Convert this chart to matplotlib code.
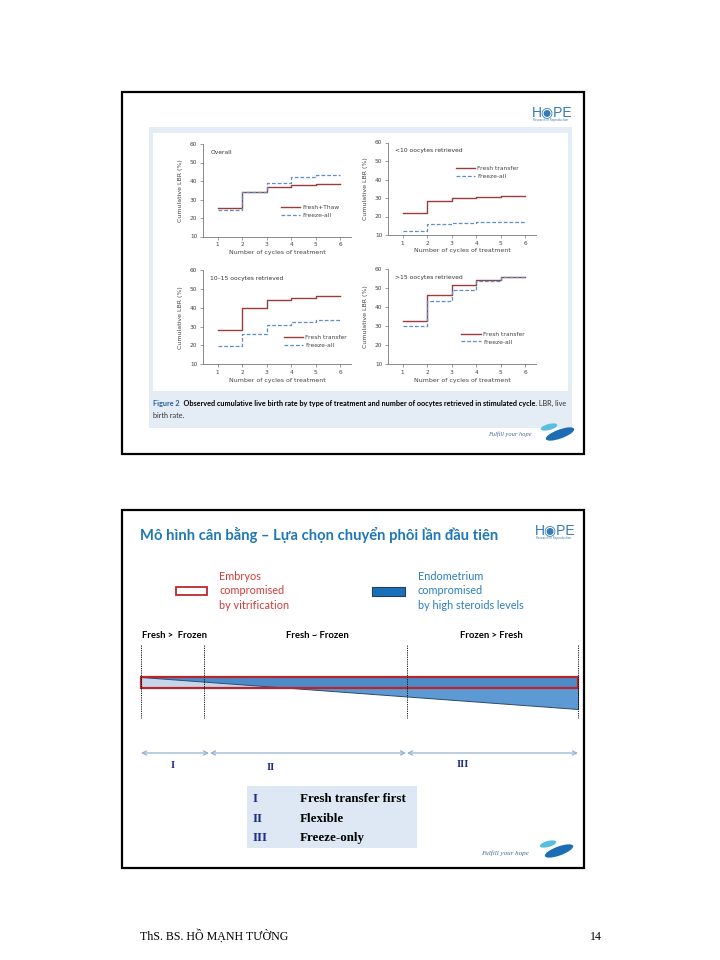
import matplotlib
matplotlib.use("Agg")
import matplotlib.pyplot as plt
from matplotlib.patches import Rectangle, Polygon, Ellipse

# ---- data: cumulative LBR (%) per cycle of treatment ----
cycles = [1, 2, 3, 4, 5, 6]
overall_fresh = [25.5, 33.8, 37.0, 38.0, 38.5, 38.5]
overall_freeze = [24.1, 34.2, 38.9, 42.3, 43.5, 43.5]
lt10_fresh = [22.1, 28.3, 30.2, 30.8, 31.0, 31.0]
lt10_freeze = [12.0, 15.9, 16.4, 17.0, 17.1, 17.1]
mid_fresh = [28.3, 39.6, 44.2, 45.3, 46.0, 46.0]
mid_freeze = [19.6, 25.9, 30.6, 32.6, 33.3, 33.3]
gt15_fresh = [32.4, 46.1, 51.5, 54.3, 55.6, 55.6]
gt15_freeze = [30.0, 43.2, 48.9, 53.8, 55.5, 55.5]

panel_titles = ["Overall", "<10 oocytes retrieved",
                "10\u201315 oocytes retrieved", ">15 oocytes retrieved"]
fresh_labels = ["Fresh+Thaw", "Fresh transfer", "Fresh transfer", "Fresh transfer"]
yticks = [10, 20, 30, 40, 50, 60]

zones = ["Fresh >  Frozen", "Fresh ~ Frozen", "Frozen > Fresh"]
romans = ["I", "II", "III"]
strategies = ["Fresh transfer first", "Flexible", "Freeze-only"]

FRESH = "#9c3a3c"
FREEZE = "#5b8dc8"
HOPE_BLUE = "#3479b9"

fig = plt.figure(figsize=(7.2, 9.6), dpi=100)
bg = fig.add_axes([0, 0, 1, 1])
bg.set_xlim(0, 720)
bg.set_ylim(960, 0)
bg.axis("off")
renderer = fig.canvas.get_renderer()


def px_axes(x0, y0, x1, y1):
    return fig.add_axes([x0 / 720, 1 - y1 / 960, (x1 - x0) / 720, (y1 - y0) / 960])


def run_text(x, y, parts, **common):
    # write text pieces one after another on the same baseline
    for s, kw in parts:
        t = bg.text(x, y, s, va="baseline", **common, **kw)
        x += t.get_window_extent(renderer).width


def leaf(cx, cy):
    bg.add_patch(Ellipse((cx - 7, cy - 5), 17, 6, angle=-15, color="#57bfdc", lw=0))
    bg.add_patch(Ellipse((cx + 4, cy + 2), 30, 9, angle=-20, color="#1b6db4", lw=0))


def hope_logo(x, y):
    bg.text(x, y, "H\u25c9PE", color=HOPE_BLUE, fontsize=10,
            family=["Liberation Sans", "DejaVu Sans"], va="baseline")
    bg.text(x + 1, y + 5, "Research in Reproduction", color=HOPE_BLUE,
            fontsize=2, va="baseline")


# ================= slide 1 =================
bg.add_patch(Rectangle((122, 92), 462, 362, fill=False, ec="black", lw=1.6))
bg.add_patch(Rectangle((149, 127), 423, 301, fc="#e4ecf5", ec="none"))
bg.add_patch(Rectangle((153, 133), 415, 258, fc="white", ec="none"))
hope_logo(532, 116)

boxes = [(203, 144, 351, 236.5), (388, 142.5, 536, 235),
         (203, 270, 351, 364.3), (388, 268.7, 536, 364.3)]
series = [(overall_fresh, overall_freeze), (lt10_fresh, lt10_freeze),
          (mid_fresh, mid_freeze), (gt15_fresh, gt15_freeze)]
legend_pos = [(0.51, 0.27), (0.44, 0.68), (0.53, 0.245), (0.48, 0.275)]

for box, (fr, fz), title, flab, lpos in zip(boxes, series, panel_titles,
                                          fresh_labels, legend_pos):
    ax = px_axes(*box)
    ax.step(cycles, fr, where="post", color=FRESH, lw=1.0, label=flab)
    ax.step(cycles, fz, where="post", color=FREEZE, lw=0.9, ls=(0, (3, 1.6)),
            label="Freeze-all")
    ax.set_xlim(0.4, 6.45)
    ax.set_ylim(10, 60)
    ax.set_xticks(cycles)
    ax.set_yticks(yticks)
    for side in ("top", "right"):
        ax.spines[side].set_visible(False)
    for side in ("left", "bottom"):
        ax.spines[side].set_color("#777777")
        ax.spines[side].set_linewidth(0.6)
    ax.tick_params(labelsize=4.2, colors="#777777", labelcolor="#444444",
                   length=2, width=0.5, pad=2)
    ax.set_xlabel("Number of cycles of treatment", fontsize=4.5, color="#444444",
                  labelpad=2)
    ax.set_ylabel("Cumulative LBR (%)", fontsize=4.5, color="#444444", labelpad=5)
    ax.text(0.05, 0.91, title, transform=ax.transAxes, fontsize=4.3,
            color="#333333", va="center")
    ax.legend(loc="center left", bbox_to_anchor=lpos, frameon=False,
              fontsize=4.3, handlelength=3.2, labelspacing=0.45,
              borderaxespad=0, handletextpad=0.4)
    for t in ax.get_legend().get_texts():
        t.set_color("#444444")

cap_font = dict(fontsize=5.2, family="Lato")
run_text(153, 406, [("Figure 2", dict(color="#2b5d9e", weight="bold")),
                    ("  Observed cumulative live birth rate by type of treatment and number "
                     "of oocytes retrieved in stimulated cycle.", dict(color="black", weight="bold")),
                    (" LBR, live", dict(color="#333333"))], **cap_font)
bg.text(153, 418, "birth rate.", color="#333333", va="baseline", **cap_font)

bg.text(488, 436, "Fulfill your hope", fontsize=4.6, style="italic",
        family="Liberation Serif", color="#46689a", va="baseline")
leaf(556, 432)

# ================= slide 2 =================
bg.add_patch(Rectangle((122, 510), 462, 358, fill=False, ec="black", lw=1.6))
bg.text(140, 540, "M\u00f4 h\u00ecnh c\u00e2n b\u1eb1ng \u2013 L\u1ef1a ch\u1ecdn chuy\u1ec3n ph\u00f4i "
        "l\u1ea7n \u0111\u1ea7u ti\u00ean", fontsize=10.6, weight="bold",
        family=["Lato", "DejaVu Sans"], color="#1f78b4", va="baseline")
hope_logo(535, 534)

# legend of the two compromise types
bg.add_patch(Rectangle((176, 587), 31, 8, fill=False, ec="#c0262d", lw=1.3))
for i, s in enumerate(["Embryos", "compromised", "by vitrification"]):
    bg.text(219, 580 + i * 14.5, s, fontsize=7.8, family="Lato", color="#d33b3b",
            va="baseline")
bg.add_patch(Rectangle((372, 587), 33, 9, fc="#1a6fb8", ec="#1d3f66", lw=0.8))
for i, s in enumerate(["Endometrium", "compromised", "by high steroids levels"]):
    bg.text(418, 580 + i * 14.5, s, fontsize=7.8, family="Lato", color="#2a7fbe",
            va="baseline")

# zone headers and dividers
for x, s in zip([142, 286, 460], zones):
    bg.text(x, 638, s, fontsize=6.8, weight="bold", family="Lato", color="black",
            va="baseline")
for x in [141, 204, 407, 578]:
    bg.plot([x, x], [645, 718], color="black", lw=0.6, ls=(0, (1.5, 1.2)))

bg.add_patch(Polygon([(141, 677), (578, 677), (578, 709)], closed=True,
                     fc="#5d9ad3", ec="#2b4a6a", lw=0.7))
bg.add_patch(Rectangle((141, 677), 437, 11, fc="#1f5fa8", alpha=0.25, ec="none"))
bg.add_patch(Rectangle((141, 677), 437, 11, fill=False, ec="#b8262c", lw=1.6))

# strategy ranges
for xa, xb in [(141, 209), (210, 406), (407, 578)]:
    bg.annotate("", xy=(xb, 753), xytext=(xa, 753),
                arrowprops=dict(arrowstyle="<->,head_length=0.3,head_width=0.15",
                                color="#93b2d4", lw=0.9, shrinkA=0, shrinkB=0))
for x, y, s in zip([173, 271, 463], [768, 770, 767], romans):
    bg.text(x, y, s, fontsize=7.5, weight="bold", family="Liberation Serif",
            color="#1f2d8c", ha="center", va="baseline")

bg.add_patch(Rectangle((247, 786), 170, 62, fc="#dde8f4", ec="none"))
for i, (r, s) in enumerate(zip(romans, strategies)):
    y = 802 + i * 19.5
    bg.text(253, y, r, fontsize=9.4, weight="bold", family="Liberation Serif",
            color="#1f2d8c", va="baseline")
    bg.text(300, y, s, fontsize=9.4, weight="bold", family="Liberation Serif",
            color="black", va="baseline")

bg.text(481, 855, "Fulfill your hope", fontsize=5, style="italic",
        family="Liberation Serif", color="#46689a", va="baseline")
leaf(555, 849)

# footer
bg.text(140, 940, "ThS. BS. H\u1ed2 M\u1ea0NH T\u01af\u1edcNG", fontsize=8.6,
        family="Liberation Serif", color="black", va="baseline")
bg.text(590, 940, "14", fontsize=8.6, family="Liberation Serif", color="black",
        va="baseline")

fig.savefig("out.png", dpi=100)
